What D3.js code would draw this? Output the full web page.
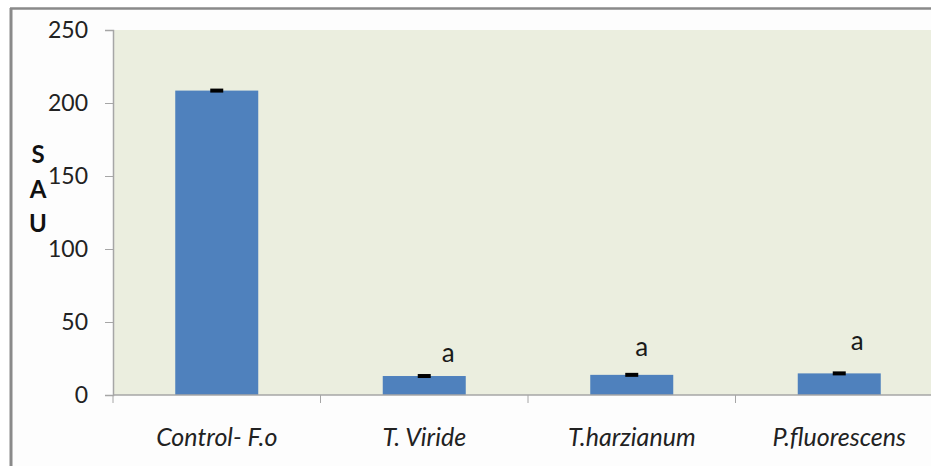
<!DOCTYPE html>
<html>
<head>
<meta charset="utf-8">
<script src="https://cdn.jsdelivr.net/npm/d3@7"></script>
<style>
  html, body { margin: 0; padding: 0; background: #ffffff; }
  svg { display: block; }
  text { font-family: Lato, "Open Sans", "DejaVu Sans", sans-serif; }
</style>
</head>
<body>
<svg id="chart" width="931" height="466"></svg>
<script>
// Disease index (SAU) per treatment
const categories = ["Control- F.o", "T. Viride", "T.harzianum", "P.fluorescens"];
const values = [208.5, 13, 13.8, 14.8];
const errors = [1, 1, 0.6, 0.8];
const letters = ["", "a", "a", "a"];
const yTicks = [0, 50, 100, 150, 200, 250];

// small per-letter nudges so the significance marks sit as set in the figure
const letterDx = [0, 24, 10, 18];
const letterDy = [0, -13, -18, -22];

const svg = d3.select("#chart");
const W = 931, H = 466;

// outer frame (page white inside a gray rule)
svg.append("rect").attr("x", 0).attr("y", 0).attr("width", W).attr("height", H).attr("fill", "#ffffff");
svg.append("rect").attr("x", 11).attr("y", 9).attr("width", W).attr("height", H)
  .attr("fill", "#fdfdfd");
svg.append("line").attr("x1", 11).attr("x2", 11).attr("y1", 8).attr("y2", H)
  .attr("stroke", "#8a8a8a").attr("stroke-width", 3);
svg.append("line").attr("x1", 10).attr("x2", W).attr("y1", 8.5).attr("y2", 8.5)
  .attr("stroke", "#8a8a8a").attr("stroke-width", 2.5);

const plot = { left: 113, top: 30, width: 830, height: 365 };

const x = d3.scaleBand().domain(categories).range([plot.left, plot.left + plot.width])
  .paddingInner(0.6).paddingOuter(0.3);
const y = d3.scaleLinear().domain([0, 250]).range([plot.top + plot.height, plot.top]);

// plot area
svg.append("rect").attr("x", plot.left).attr("y", plot.top)
  .attr("width", plot.width).attr("height", plot.height).attr("fill", "#ebeedf");

// bars
svg.append("g").selectAll("rect").data(categories).join("rect")
  .attr("x", d => x(d))
  .attr("y", (d, i) => y(values[i]))
  .attr("width", x.bandwidth())
  .attr("height", (d, i) => y(0) - y(values[i]))
  .attr("fill", "#4f81bd");

// error caps
svg.append("g").selectAll("rect").data(categories).join("rect")
  .attr("x", (d, i) => x(d) + x.bandwidth() / 2 - 6.5)
  .attr("y", (d, i) => Math.min(y(values[i] + errors[i]), y(values[i]) - 2))
  .attr("width", 13)
  .attr("height", (d, i) => Math.max(y(values[i] - errors[i]) - y(values[i] + errors[i]), 4))
  .attr("fill", "#000000");

// significance letters
svg.append("g").selectAll("text").data(categories).join("text")
  .attr("x", (d, i) => x(d) + x.bandwidth() / 2 + letterDx[i])
  .attr("y", (d, i) => y(values[i] + errors[i]) + letterDy[i])
  .attr("text-anchor", "middle")
  .attr("font-size", 26)
  .attr("fill", "#1a1a1a")
  .text((d, i) => letters[i]);

// y axis
const yAxis = d3.axisLeft(y).tickValues(yTicks).tickSize(8).tickPadding(17);
const gy = svg.append("g").attr("transform", `translate(${plot.left},0)`).call(yAxis);
gy.select(".domain").attr("stroke", "#a6a6a6").attr("stroke-width", 1.5);
gy.selectAll(".tick line").attr("stroke", "#a6a6a6");
gy.selectAll(".tick text").attr("font-size", 23).attr("fill", "#222222")
  .style("font-family", "Lato, 'Open Sans', sans-serif");

// x axis with ticks at band boundaries
const gx = svg.append("g").attr("transform", `translate(0,${plot.top + plot.height})`);
gx.append("line").attr("x1", plot.left).attr("x2", plot.left + plot.width)
  .attr("y1", 0).attr("y2", 0).attr("stroke", "#a6a6a6").attr("stroke-width", 1.5);
const bounds = d3.range(categories.length + 1).map(i => plot.left + i * plot.width / categories.length);
gx.selectAll("line.tk").data(bounds).join("line").attr("class", "tk")
  .attr("x1", d => d).attr("x2", d => d).attr("y1", 0).attr("y2", 8)
  .attr("stroke", "#a6a6a6");
gx.selectAll("text").data(categories).join("text")
  .attr("x", d => x(d) + x.bandwidth() / 2)
  .attr("y", 51)
  .attr("text-anchor", "middle")
  .attr("font-size", 25)
  .attr("font-style", "italic")
  .attr("fill", "#222222")
  .text(d => d);

// stacked y-axis title
const title = ["S", "A", "U"];
svg.append("g").selectAll("text").data(title).join("text")
  .attr("x", 38)
  .attr("y", (d, i) => 163 + i * 34.5)
  .attr("text-anchor", "middle")
  .attr("font-size", 24)
  .attr("font-weight", "bold")
  .attr("fill", "#111111")
  .text(d => d);
</script>
</body>
</html>
